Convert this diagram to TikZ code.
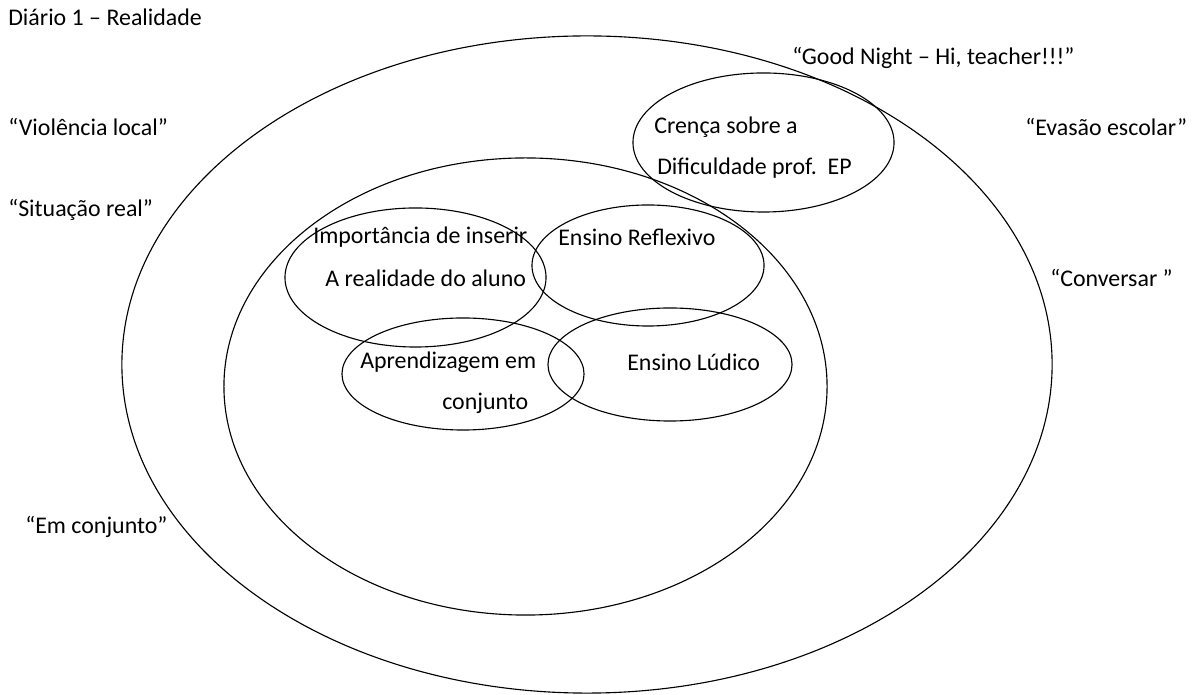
\documentclass[tikz,border=0pt]{standalone}
\usepackage{fontspec}
\setmainfont{Carlito}
\begin{document}
\begin{tikzpicture}[x=0.025cm,y=0.025cm]
                \useasboundingbox (0,0) rectangle (1200,695);
                {\fontsize{17}{20}\selectfont
                \tikzset{lbl/.style={anchor=west,inner sep=0pt}}

                % Drawing ellipse outer (realidade)
                \draw [line width=0.8pt] (587,330.5) ellipse [x radius=11.625cm, y radius=8.2125cm];%

                % Drawing ellipse inner
                \draw [line width=0.8pt] (525.5,308.5) ellipse [x radius=7.5375cm, y radius=5.7125cm];%

                % Drawing ellipse crenca
                \draw [line width=0.8pt] (763.5,552.5) ellipse [x radius=3.2625cm, y radius=1.7375cm];%

                % Drawing ellipse importancia
                \draw [line width=0.8pt] (415.5,417.5) ellipse [x radius=3.2625cm, y radius=1.7375cm];%

                % Drawing ellipse reflexivo
                \draw [line width=0.8pt] (648,429.5) ellipse [x radius=2.9cm, y radius=1.5125cm];%

                % Drawing ellipse aprendizagem
                \draw [line width=0.8pt] (463,321) ellipse [x radius=3.025cm, y radius=1.4cm];%

                % Drawing ellipse ludico
                \draw [line width=0.8pt] (670,330.5) ellipse [x radius=3.05cm, y radius=1.4125cm];%

                % Marking labels outside
                \node [lbl] (diario) at (8,678) {Diário 1 – Realidade};%
                \node [lbl] (violencia) at (8,568) {“Violência local”};%
                \node [lbl] (situacao) at (8,485) {“Situação real”};%
                \node [lbl] (emconjunto) at (25,168) {“Em conjunto”};%
                \node [lbl] (goodnight) at (792,637) {“Good Night – Hi, teacher!!!”};%
                \node [lbl] (evasao) at (1025,568) {“Evasão escolar”};%
                \node [lbl] (conversar) at (1050,417) {“Conversar ”};%

                % Marking labels inside
                \node [lbl] (crencaA) at (654,568) {Crença sobre a};%
                \node [lbl] (crencaB) at (657,527) {Dificuldade prof.\ \ EP};%
                \node [lbl] (importA) at (313,458) {Importância de inserir};%
                \node [lbl] (importB) at (325,417) {A realidade do aluno};%
                \node [lbl] (reflexivo) at (558,458) {Ensino Reflexivo};%
                \node [lbl] (aprendA) at (360,333) {Aprendizagem em};%
                \node [lbl] (aprendB) at (442,292) {conjunto};%
                \node [lbl] (ludico) at (627,333) {Ensino Lúdico};%
                }
            \end{tikzpicture}
\end{document}
